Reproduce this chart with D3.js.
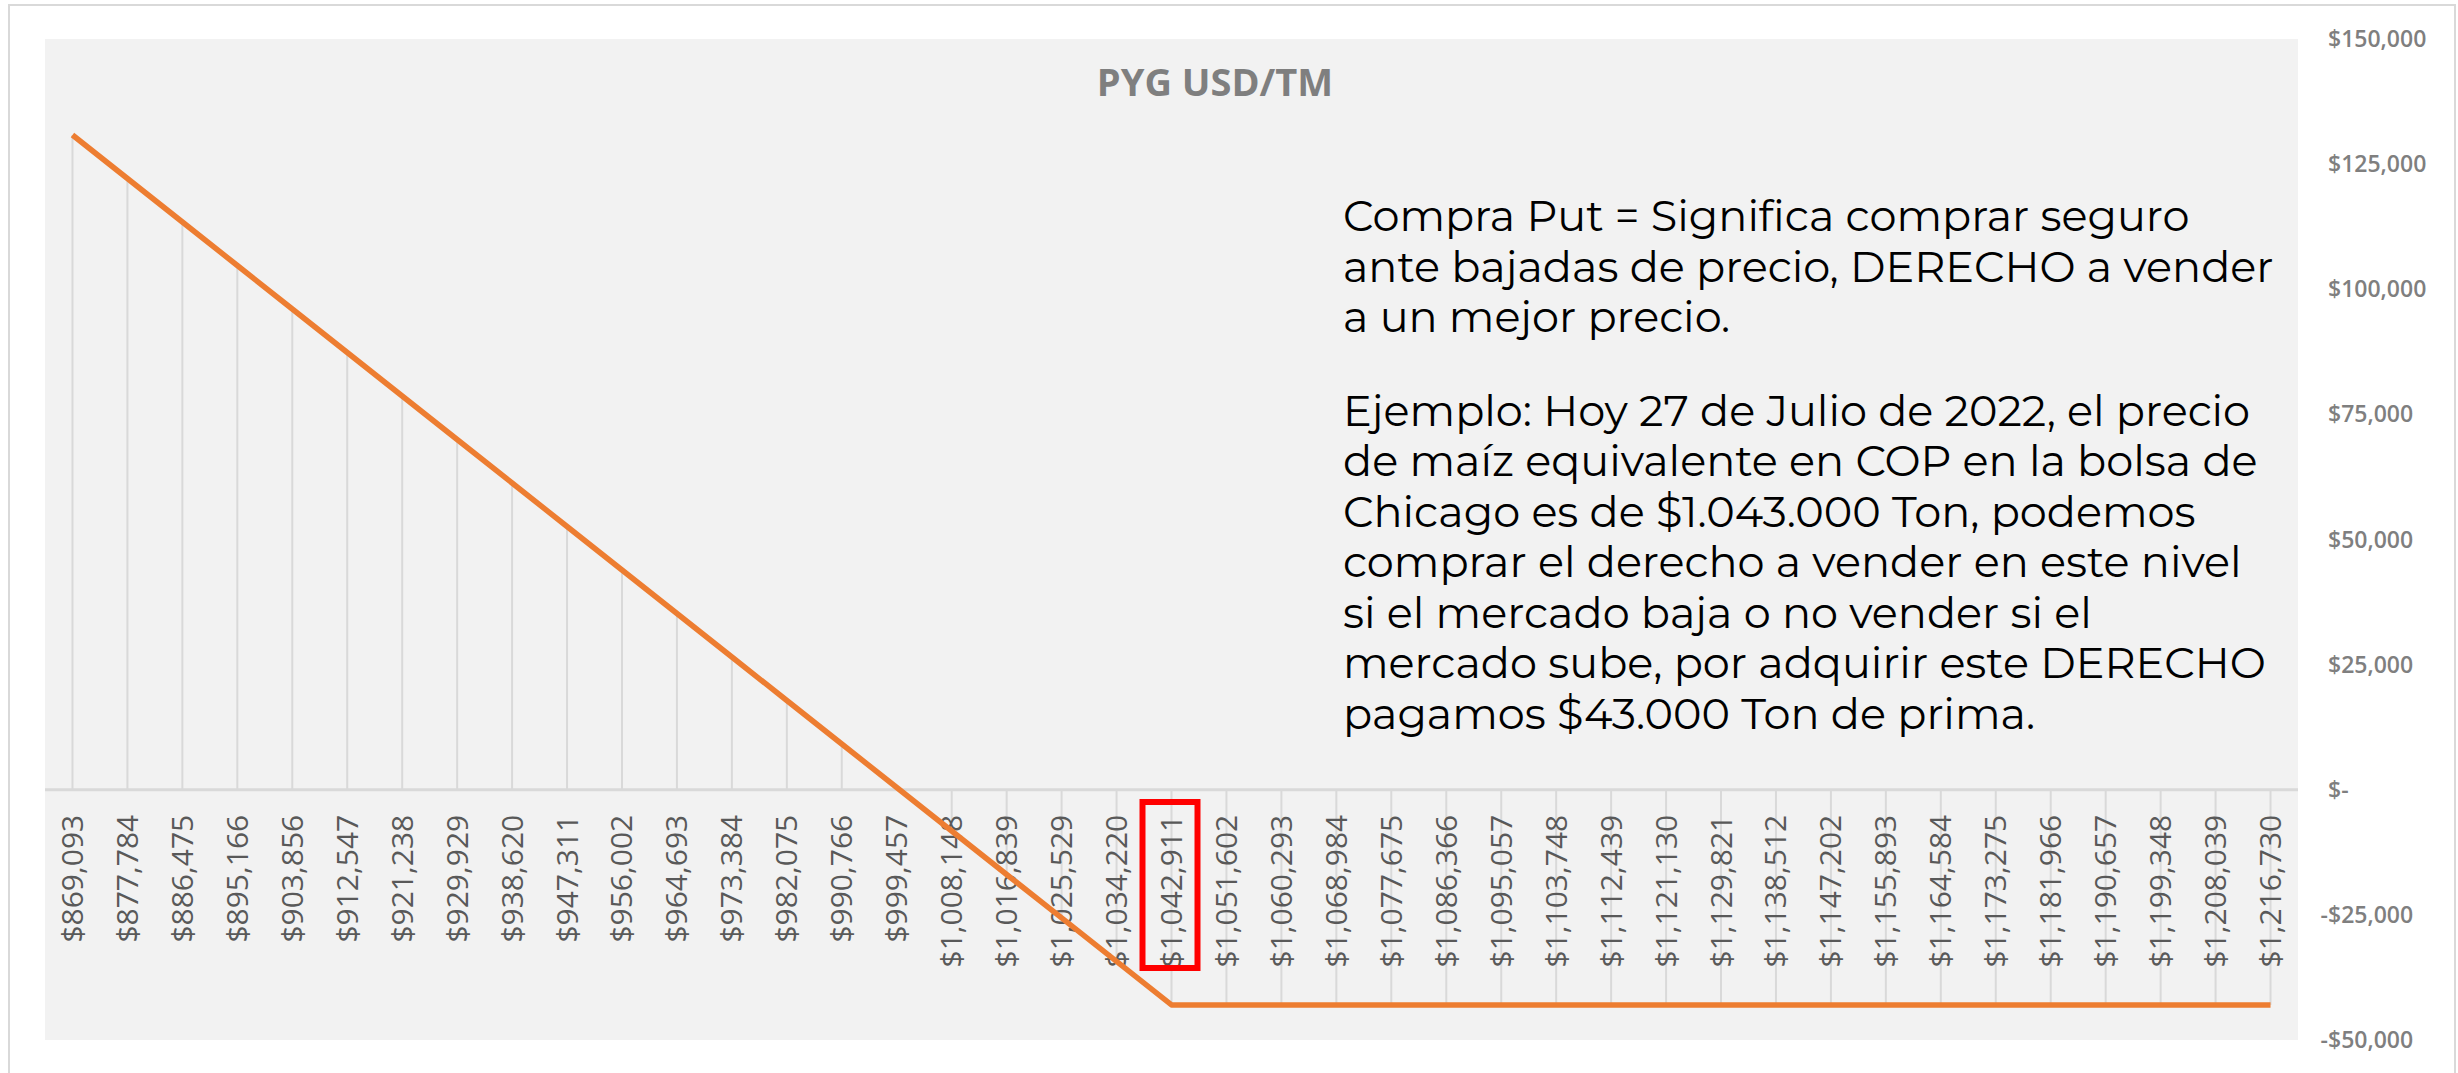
<!DOCTYPE html>
<html>
<head>
<meta charset="utf-8">
<script src="https://cdn.jsdelivr.net/npm/d3@7"></script>
<style>
    body { margin: 0; background: #ffffff; }
    svg { display: block; }
</style>
</head>
<body>
<div id="chart"></div>
<script>
    // Data
    var chartTitle = 'PYG USD/TM';
    var strikePrices = [869093, 877784, 886475, 895166, 903856, 912547, 921238, 929929, 938620, 947311,
        956002, 964693, 973384, 982075, 990766, 999457, 1008148, 1016839, 1025529, 1034220,
        1042911, 1051602, 1060293, 1068984, 1077675, 1086366, 1095057, 1103748, 1112439, 1121130,
        1129821, 1138512, 1147202, 1155893, 1164584, 1173275, 1181966, 1190657, 1199348, 1208039,
        1216730];
    var payoffValues = [130818, 122127, 113436, 104745, 96055, 87364, 78673, 69982, 61291, 52600,
        43909, 35218, 26527, 17836, 9145, 454, -8237, -16928, -25618, -34309,
        -43000, -43000, -43000, -43000, -43000, -43000, -43000, -43000, -43000, -43000,
        -43000, -43000, -43000, -43000, -43000, -43000, -43000, -43000, -43000, -43000,
        -43000];
    var yTickValues = [150000, 125000, 100000, 75000, 50000, 25000, 0, -25000, -50000];
    var highlightStrike = 1042911;
    var noteParagraph1 = [
        'Compra Put = Significa comprar seguro',
        'ante bajadas de precio, DERECHO a vender',
        'a un mejor precio.'
    ];
    var noteParagraph2 = [
        'Ejemplo: Hoy 27 de Julio de 2022, el precio',
        'de maíz equivalente en COP en la bolsa de',
        'Chicago es de $1.043.000 Ton, podemos',
        'comprar el derecho a vender en este nivel',
        'si el mercado baja o no vender si el',
        'mercado sube, por adquirir este DERECHO',
        'pagamos $43.000 Ton de prima.'
    ];

    // Layout
    var width = 2458,
        height = 1073,
        plot = { left: 45, right: 2298, top: 39, bottom: 1040 };
    var lineColor = '#ED7D31',
        gridColor = '#D9D9D9';

    var data = strikePrices.map(function(s, i) { return { strike: s, value: payoffValues[i] }; });
    var money = d3.format(',');

    // Scales
    var xScale = d3.scaleBand()
        .domain(strikePrices)
        .range([plot.left, plot.right])
        .padding(0);
    var xMid = function(s) { return xScale(s) + xScale.bandwidth() / 2; };
    var yScale = d3.scaleLinear()
        .domain([-50000, 150000])
        .range([plot.bottom, plot.top]);

    var svg = d3.select('#chart').append('svg')
        .attr('width', width)
        .attr('height', height);

    // Chart area border
    svg.append('rect')
        .attr('x', 9).attr('y', 5)
        .attr('width', 2446).attr('height', 1100)
        .attr('fill', '#ffffff')
        .attr('stroke', gridColor)
        .attr('stroke-width', 2);

    // Plot area
    svg.append('rect')
        .attr('x', plot.left).attr('y', plot.top)
        .attr('width', plot.right - plot.left)
        .attr('height', plot.bottom - plot.top)
        .attr('fill', '#F2F2F2');

    // Title
    svg.append('text')
        .attr('x', 1215).attr('y', 96)
        .attr('text-anchor', 'middle')
        .style('font-family', '"Open Sans", sans-serif')
        .style('font-size', '38px')
        .style('font-weight', 'bold')
        .style('fill', '#7F7F7F')
        .text(chartTitle);

    // Drop lines
    svg.append('g').attr('class', 'drop-lines')
        .selectAll('line').data(data).enter()
        .append('line')
        .attr('x1', function(d) { return xMid(d.strike); })
        .attr('x2', function(d) { return xMid(d.strike); })
        .attr('y1', function(d) { return yScale(d.value); })
        .attr('y2', yScale(0))
        .attr('stroke', gridColor)
        .attr('stroke-width', 2);

    // Zero axis line
    svg.append('line')
        .attr('x1', plot.left).attr('x2', plot.right)
        .attr('y1', yScale(0)).attr('y2', yScale(0))
        .attr('stroke', gridColor)
        .attr('stroke-width', 3);

    // Category labels (rotated)
    var xAxis = d3.axisBottom(xScale).tickSize(0).tickPadding(0)
        .tickFormat(function(d) { return '$' + money(d); });
    var gx = svg.append('g')
        .attr('class', 'axis x')
        .attr('transform', 'translate(0,' + yScale(0) + ')')
        .call(xAxis);
    gx.select('.domain').remove();
    gx.selectAll('text')
        .attr('transform', 'rotate(-90)')
        .attr('x', -25)
        .attr('y', 0)
        .attr('dy', '0.35em')
        .attr('text-anchor', 'end')
        .style('font-family', '"Open Sans", sans-serif')
        .style('font-size', '30px')
        .style('font-weight', 500)
        .style('fill', '#595959');

    // Payoff line
    var line = d3.line()
        .x(function(d) { return xMid(d.strike); })
        .y(function(d) { return yScale(d.value); });
    svg.append('path')
        .datum(data)
        .attr('d', line)
        .attr('fill', 'none')
        .attr('stroke', lineColor)
        .attr('stroke-width', 5.5)
        .attr('stroke-linejoin', 'round');

    // Value axis labels (right side)
    var gy = svg.append('g').attr('class', 'axis y');
    var yLabels = gy.selectAll('g').data(yTickValues).enter()
        .append('g')
        .attr('transform', function(d) { return 'translate(2328,' + yScale(d) + ')'; });
    yLabels.append('text')
        .attr('dy', '0.35em')
        .attr('text-anchor', 'start')
        .text(function(d) { return d === 0 ? '$-' : '$' + money(Math.abs(d)); });
    yLabels.filter(function(d) { return d < 0; })
        .append('text')
        .attr('dy', '0.35em')
        .attr('text-anchor', 'end')
        .text('-');
    gy.selectAll('text')
        .style('font-family', '"Open Sans", sans-serif')
        .style('font-size', '23px')
        .style('font-weight', 600)
        .style('fill', '#7F7F7F');

    // Highlight box around the strike used in the example
    svg.append('rect')
        .attr('x', xMid(highlightStrike) - 29)
        .attr('y', 802)
        .attr('width', 55)
        .attr('height', 166)
        .attr('fill', 'none')
        .attr('stroke', '#FF0000')
        .attr('stroke-width', 6);

    // Annotation text
    var note = svg.append('g').attr('class', 'note')
        .style('font-family', 'Montserrat, Inter, sans-serif')
        .style('font-size', '43px')
        .style('fill', '#000000');
    noteParagraph1.forEach(function(t, i) {
        note.append('text').attr('x', 1343).attr('y', 231 + i * 50.5).text(t);
    });
    noteParagraph2.forEach(function(t, i) {
        note.append('text').attr('x', 1343).attr('y', 425.5 + i * 50.5).text(t);
    });
</script>
</body>
</html>
